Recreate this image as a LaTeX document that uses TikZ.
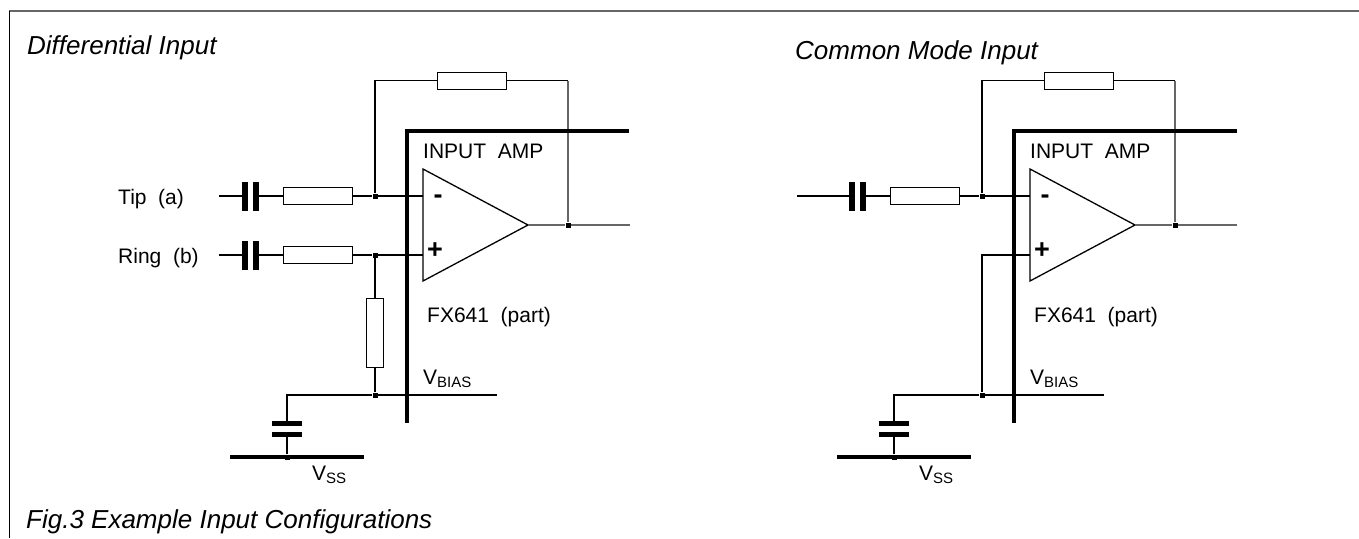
\documentclass[tikz,border=0pt]{standalone}
\usepackage{fontspec}
\setmainfont{Liberation Sans}
\usepackage{tikz}

\newcommand{\lbl}{\fontsize{21}{24}\selectfont}
\newcommand{\ttl}{\fontsize{26}{30}\selectfont\itshape}
\newcommand{\lowtxt}[1]{\raisebox{-3pt}{\fontsize{15}{15}\selectfont #1}}

\tikzset{
    wire/.style={line width=1.3pt},
    fbwire/.style={line width=1.5pt, color=black!60},
    block/.style={line width=4.5pt},
    rail/.style={line width=4pt},
    resistor/.style={
      rectangle,
      draw,
      line width=1pt,
      minimum width=69pt,
      minimum height=17pt,
      inner sep=0pt
    },
    vresistor/.style={resistor, minimum width=17pt, minimum height=69pt},
    vplate/.style={rectangle, fill=black, minimum width=6pt, minimum height=29pt, inner sep=0pt},
    hplate/.style={rectangle, fill=black, minimum width=30pt, minimum height=5pt, inner sep=0pt},
    junction/.style={rectangle, fill=black, minimum size=5pt, inner sep=0pt},
    txt/.style={anchor=base west, inner sep=0pt, font=\lbl},
    heading/.style={anchor=base west, inner sep=0pt, font=\ttl},
    sign/.style={inner sep=0pt, font=\fontsize{27}{27}\selectfont\bfseries},
}

\begin{document}
\begin{tikzpicture}[x=1pt,y=-1pt]

    \useasboundingbox (0,0) rectangle (1359,538);

    % frame
    \coordinate (ftl) at (9,11);
    \coordinate (ftr) at (1359,11);
    \coordinate (fbl) at (9,538);
    \draw[black!60, line width=2pt] (ftl) -- (ftr);
    \draw[line width=1pt] (ftl) -- (fbl);

    \node[heading] (fig) at (26,528) {Fig.3 Example Input Configurations};

    % differential input
    \begin{scope}
      \node[heading] (dtitle) at (27,54) {Differential Input};

      \coordinate (tipin) at (219,196);
      \coordinate (ringin) at (219,255);
      \node[txt] (tiplbl) at (118,204) {Tip\ \ (a)};
      \node[txt] (ringlbl) at (118,263) {Ring\ \ (b)};

      \node[vplate] (ct1) at (245,196) {};
      \node[vplate] (ct2) at (256,196) {};
      \node[vplate] (cr1) at (245,255) {};
      \node[vplate] (cr2) at (256,255) {};

      \node[resistor] (rt) at (317.5,196) {};
      \node[resistor] (rr) at (317.5,255) {};
      \node[resistor] (rf) at (472,80.5) {};
      \node[vresistor] (rb) at (375,332.5) {};

      \node[junction] (jt) at (375,196) {};
      \node[junction] (jr) at (375,255) {};
      \node[junction] (jo) at (568,225) {};
      \node[junction] (jb) at (375,395) {};
      \node[junction] (jv) at (287,457) {};

      \node[hplate] (cb1) at (287,423.5) {};
      \node[hplate] (cb2) at (287,434.5) {};

      \coordinate (ampm) at (423,196);
      \coordinate (ampp) at (423,255);
      \coordinate (ampo) at (528,225);
      \coordinate (fbr) at (568,80.5);
      \coordinate (outend) at (630,225);
      \coordinate (biasend) at (497,395);
      \coordinate (vssl) at (230,457);
      \coordinate (vssr) at (364,457);
      \coordinate (blktop) at (629,131);
      \coordinate (blkbot) at (407,423);

      \draw[line width=1.3pt] (423,169) -- (ampo) -- (423,281) -- cycle;
      \node[sign] (minus) at (438,199) {-};
      \node[sign] (plus) at (435,251) {+};

      \draw[wire] (tipin) -- (ct1);
      \draw[wire] (ct2) -- (rt);
      \draw[wire] (rt) -- (jt) -- (ampm);
      \draw[wire] (ringin) -- (cr1);
      \draw[wire] (cr2) -- (rr);
      \draw[wire] (rr) -- (jr) -- (ampp);
      \draw[wire] (jr) -- (rb);
      \draw[wire] (rb) -- (jb);
      \draw[wire] (biasend) -- (jb) -| (cb1);
      \draw[wire] (cb2) -- (jv);

      \draw[wire] (jt) |- (rf.west);
      \draw[wire] (rf.east) -- (fbr);
      \draw[fbwire] (fbr) -- (jo);
      \draw[fbwire] (ampo) -- (jo) -- (outend);

      \draw[rail] (vssl) -- (vssr);
      \draw[block] (blktop) -| (blkbot);

      \node[txt] (amplbl) at (423,158) {INPUT\ \ AMP};
      \node[txt] (partlbl) at (427,322) {FX641\ \ (part)};
      \node[txt] (vbias) at (423,384) {V\lowtxt{BIAS}};
      \node[txt] (vss) at (312,480) {V\lowtxt{SS}};
    \end{scope}

    % common mode input
    \begin{scope}[xshift=607pt]
      \node[heading] (ctitle) at (188,59) {Common Mode Input};

      \coordinate (cin) at (190,196);

      \node[vplate] (cc1) at (245,196) {};
      \node[vplate] (cc2) at (256,196) {};

      \node[resistor] (crt) at (317.5,196) {};
      \node[resistor] (crf) at (472,80.5) {};

      \node[junction] (cjt) at (375,196) {};
      \node[junction] (cjo) at (568,225) {};
      \node[junction] (cjb) at (375,395) {};
      \node[junction] (cjv) at (287,457) {};

      \node[hplate] (ccb1) at (287,423.5) {};
      \node[hplate] (ccb2) at (287,434.5) {};

      \coordinate (campm) at (423,196);
      \coordinate (campp) at (423,255);
      \coordinate (campo) at (528,225);
      \coordinate (cfbr) at (568,80.5);
      \coordinate (coutend) at (630,225);
      \coordinate (cbiasend) at (497,395);
      \coordinate (cvssl) at (230,457);
      \coordinate (cvssr) at (364,457);
      \coordinate (cblktop) at (630,131);
      \coordinate (cblkbot) at (407,423);

      \draw[line width=1.3pt] (423,169) -- (campo) -- (423,281) -- cycle;
      \node[sign] (cminus) at (438,199) {-};
      \node[sign] (cplus) at (435,251) {+};

      \draw[wire] (cin) -- (cc1);
      \draw[wire] (cc2) -- (crt);
      \draw[wire] (crt) -- (cjt) -- (campm);
      \draw[wire] (campp) -| (cjb);
      \draw[wire] (cbiasend) -- (cjb) -| (ccb1);
      \draw[wire] (ccb2) -- (cjv);

      \draw[wire] (cjt) |- (crf.west);
      \draw[wire] (crf.east) -- (cfbr);
      \draw[fbwire] (cfbr) -- (cjo);
      \draw[fbwire] (campo) -- (cjo) -- (coutend);

      \draw[rail] (cvssl) -- (cvssr);
      \draw[block] (cblktop) -| (cblkbot);

      \node[txt] (camplbl) at (423,158) {INPUT\ \ AMP};
      \node[txt] (cpartlbl) at (427,322) {FX641\ \ (part)};
      \node[txt] (cvbias) at (423,384) {V\lowtxt{BIAS}};
      \node[txt] (cvss) at (312,480) {V\lowtxt{SS}};
    \end{scope}

  \end{tikzpicture}
\end{document}
